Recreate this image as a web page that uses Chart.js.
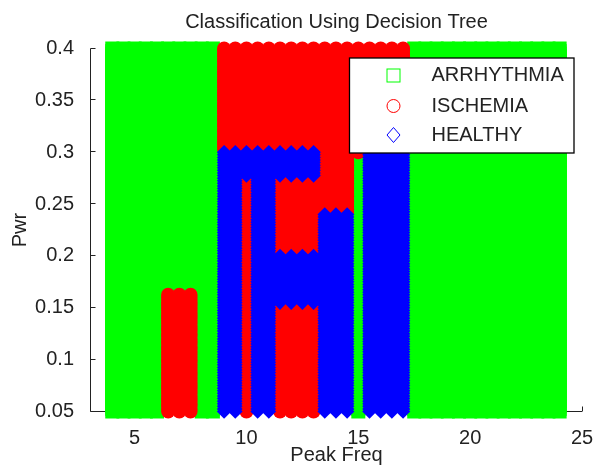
<!DOCTYPE html>
<html>
<head>
<meta charset="utf-8">
<script src="https://cdn.jsdelivr.net/npm/chart.js@4.4.0/dist/chart.umd.min.js"></script>
<style>
  html, body { margin: 0; padding: 0; background: #fff; }
  #wrap { width: 595px; height: 465px; }
</style>
</head>
<body>
<div id="wrap"><canvas id="treeChart" width="595" height="465"></canvas></div>
<script>
// ---- values ----
const chartTitle = 'Classification Using Decision Tree';
const xAxisTitle = 'Peak Freq';
const yAxisTitle = 'Pwr';

const xTickValues = [5, 10, 15, 20, 25];
const yTickValues = [0.05, 0.1, 0.15, 0.2, 0.25, 0.3, 0.35, 0.4];
const yTickLabels = ['0.05', '0.1', '0.15', '0.2', '0.25', '0.3', '0.35', '0.4'];

const classNames = ['ARRHYTHMIA', 'ISCHEMIA', 'HEALTHY'];
const classColors = ['#00ff00', '#ff0000', '#0000ff'];

// Peak Freq columns of the prediction grid (one marker column every 0.5)
const peakFreqCols = [4, 4.5, 5, 5.5, 6, 6.5, 7, 7.5, 8, 8.5, 9, 9.5, 10, 10.5, 11, 11.5, 12, 12.5, 13, 13.5,
                      14, 14.5, 15, 15.5, 16, 16.5, 17, 17.5, 18, 18.5, 19, 19.5, 20, 20.5, 21, 21.5, 22, 22.5, 23, 23.5, 24];
// Pwr rows of the grid (meshgrid, dense in Pwr)
const pwrRange = [0.05, 0.4];
const pwrStep = 0.0025;

// predicted regions [freqFrom, freqTo, pwrFrom, pwrTo]; everything else is ARRHYTHMIA
const healthyBoxes = [
  [9, 9.5, 0.05, 0.30],
  [10, 10, 0.2775, 0.30],
  [10.5, 11, 0.05, 0.30],
  [11.5, 13, 0.155, 0.20],
  [11.5, 13, 0.2775, 0.30],
  [13.5, 14.5, 0.05, 0.24],
  [15.5, 17, 0.05, 0.30]
];
const ischemiaBoxes = [
  [6.5, 7.5, 0.05, 0.1625],
  [9, 17, 0.3025, 0.40],
  [10, 10, 0.05, 0.275],
  [11.5, 13, 0.05, 0.1525],
  [11.5, 13, 0.2025, 0.275],
  [13.5, 14.5, 0.2425, 0.40],
  [15, 15, 0.30, 0.40]
];

// ---- build scatter points per class ----
function inBoxes(boxes, f, p) {
  const e = 1e-6;
  return boxes.some(b => f >= b[0] - e && f <= b[1] + e && p >= b[2] - e && p <= b[3] + e);
}

const classPoints = [[], [], []];
const nRows = Math.round((pwrRange[1] - pwrRange[0]) / pwrStep);
for (const f of peakFreqCols) {
  for (let i = 0; i <= nRows; i++) {
    const p = +(pwrRange[0] + i * pwrStep).toFixed(4);
    let c = 0;
    if (inBoxes(healthyBoxes, f, p)) c = 2;
    else if (inBoxes(ischemiaBoxes, f, p)) c = 1;
    classPoints[c].push({ x: f, y: p });
  }
}

const textColor = '#222';
const fontFamily = '"Liberation Sans", Arial, Helvetica, sans-serif';

// MATLAB style axes: lines + inward ticks, drawn under the markers
const matlabAxes = {
  id: 'matlabAxes',
  beforeDatasetsDraw(chart) {
    const { ctx, chartArea: a, scales: { x, y } } = chart;
    const ax = a.left - 0.5;
    const ay = Math.round(a.bottom) - 0.5;
    ctx.save();
    ctx.strokeStyle = textColor;
    ctx.lineWidth = 1;
    ctx.beginPath();
    ctx.moveTo(ax, a.top);
    ctx.lineTo(ax, ay);
    ctx.lineTo(a.right, ay);
    yTickValues.forEach(v => {
      const py = Math.round(y.getPixelForValue(v)) - 0.5;
      ctx.moveTo(ax, py);
      ctx.lineTo(ax + 5, py);
    });
    xTickValues.forEach(v => {
      const px = Math.round(x.getPixelForValue(v)) + 0.5;
      ctx.moveTo(px, ay);
      ctx.lineTo(px, ay - 5);
    });
    ctx.stroke();
    ctx.restore();
  },
  afterDraw(chart) {
    const { ctx, chartArea: a } = chart;
    ctx.save();
    // title
    ctx.fillStyle = textColor;
    ctx.font = '20px ' + fontFamily;
    ctx.textAlign = 'center';
    ctx.textBaseline = 'middle';
    ctx.fillText(chartTitle, (a.left + a.right) / 2, 22);

    // legend box
    ctx.fillStyle = '#fff';
    ctx.fillRect(349.5, 58, 224.5, 95);
    ctx.strokeStyle = '#000';
    ctx.lineWidth = 1.3;
    ctx.strokeRect(349.5, 58, 224.5, 95);

    const mx = 393.5;
    const rowsY = [75.5, 106, 135];
    ctx.lineWidth = 1;
    // square
    ctx.strokeStyle = classColors[0];
    ctx.strokeRect(mx - 6.5, rowsY[0] - 6.5, 13, 13);
    // circle
    ctx.strokeStyle = classColors[1];
    ctx.beginPath();
    ctx.arc(mx, rowsY[1], 6.5, 0, Math.PI * 2);
    ctx.stroke();
    // diamond
    ctx.strokeStyle = classColors[2];
    ctx.beginPath();
    ctx.moveTo(mx, rowsY[2] - 7.5);
    ctx.lineTo(mx + 6.5, rowsY[2]);
    ctx.lineTo(mx, rowsY[2] + 7.5);
    ctx.lineTo(mx - 6.5, rowsY[2]);
    ctx.closePath();
    ctx.stroke();

    ctx.fillStyle = textColor;
    ctx.textAlign = 'left';
    classNames.forEach((name, i) => ctx.fillText(name, 431.5, rowsY[i]));
    ctx.restore();
  }
};

const tickFont = { family: fontFamily, size: 20 };

new Chart(document.getElementById('treeChart'), {
  type: 'scatter',
  data: {
    datasets: [
      {
        label: classNames[0], data: classPoints[0], order: 3, clip: false,
        pointStyle: 'rect', pointRadius: 9.9, pointBorderWidth: 0,
        pointBackgroundColor: classColors[0], pointBorderColor: classColors[0]
      },
      {
        label: classNames[1], data: classPoints[1], order: 2, clip: false,
        pointStyle: 'circle', pointRadius: 7, pointBorderWidth: 0,
        pointBackgroundColor: classColors[1], pointBorderColor: classColors[1]
      },
      {
        label: classNames[2], data: classPoints[2], order: 1, clip: false,
        pointStyle: 'rectRot', pointRadius: 7.3, pointBorderWidth: 0,
        pointBackgroundColor: classColors[2], pointBorderColor: classColors[2]
      }
    ]
  },
  options: {
    responsive: false,
    animation: false,
    devicePixelRatio: 1,
    events: [],
    layout: { padding: { left: 0, right: 13, top: 48.5, bottom: 0 } },
    plugins: {
      legend: { display: false },
      tooltip: { enabled: false },
      title: { display: false }
    },
    scales: {
      x: {
        type: 'linear',
        min: 3.05,
        max: 25,
        afterBuildTicks: s => { s.ticks = xTickValues.map(v => ({ value: v })); },
        afterFit: s => { s.height = 53.5; s.paddingLeft = 0; s.paddingRight = 0; },
        grid: { display: false },
        border: { display: false },
        ticks: { autoSkip: false, maxRotation: 0, padding: 7, color: textColor, font: tickFont },
        title: { display: true, text: xAxisTitle, color: textColor, padding: 0,
                 font: { family: fontFamily, size: 20, lineHeight: 1 } }
      },
      y: {
        type: 'linear',
        min: 0.05,
        max: 0.4,
        afterBuildTicks: s => { s.ticks = yTickValues.map(v => ({ value: v })); },
        afterFit: s => { s.width = 91; s.paddingTop = 0; s.paddingBottom = 0; },
        grid: { display: false },
        border: { display: false },
        ticks: { autoSkip: false, padding: 9, color: textColor, font: tickFont,
                 callback: (v, i) => yTickLabels[i] },
        title: { display: true, text: yAxisTitle, color: textColor, padding: { top: 10, bottom: 0 },
                 font: { family: fontFamily, size: 20, lineHeight: 1 } }
      }
    }
  },
  plugins: [matlabAxes]
});
</script>
</body>
</html>
